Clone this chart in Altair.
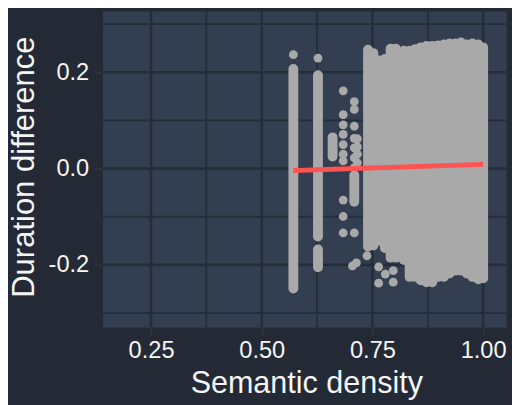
import altair as alt
import pandas as pd

# ---- data ----
# dense vertical bands of points: x, top of band, bottom of band
band_x = [0.5714, 0.627, 0.627, 0.660, 0.709,
          0.740, 0.752, 0.765, 0.778, 0.791, 0.803, 0.821,
          0.834, 0.846, 0.859, 0.872, 0.885, 0.898, 0.911,
          0.924, 0.937, 0.950, 0.963, 0.976, 0.989, 1.000]
band_top = [0.207, 0.194, -0.168, 0.065, -0.014,
            0.247, 0.240, 0.225, 0.228, 0.249, 0.249, 0.245,
            0.245, 0.248, 0.252, 0.255, 0.255, 0.256, 0.258,
            0.260, 0.260, 0.262, 0.258, 0.260, 0.258, 0.252]
band_bot = [-0.249, -0.141, -0.205, 0.025, -0.069,
            -0.162, -0.160, -0.150, -0.165, -0.185, -0.185, -0.190,
            -0.225, -0.225, -0.232, -0.236, -0.236, -0.225, -0.225,
            -0.218, -0.212, -0.212, -0.218, -0.225, -0.230, -0.228]

# isolated points
dot_x = [0.5714, 0.627,
         0.684, 0.684, 0.684, 0.684, 0.684, 0.684, 0.684, 0.684, 0.684, 0.684,
         0.709, 0.709, 0.709, 0.709, 0.709, 0.709, 0.709, 0.709, 0.7137, 0.705,
         0.716, 0.716, 0.716, 0.716,
         0.7377, 0.764, 0.764, 0.779, 0.797, 0.797]
dot_y = [0.2366, 0.2297,
         0.1616, 0.112, 0.091, 0.071, 0.050, 0.030, 0.016, -0.0654, -0.0995, -0.1336,
         0.139, 0.123, 0.088, 0.063, 0.043, 0.0225, 0.002, -0.1336, -0.196, -0.202,
         0.062, 0.045, 0.030, 0.012,
         -0.181, -0.204, -0.238, -0.219, -0.212, -0.236]

# fitted regression line
fit_x = [0.5714, 1.0]
fit_y = [-0.004, 0.0088]

# axis ticks / grid
x_major = [0.25, 0.5, 0.75, 1.0]
x_minor = [0.375, 0.625, 0.875]
y_major = [-0.2, 0.0, 0.2]
y_minor = [-0.3, -0.1, 0.1, 0.3]

BG = "#232a35"
PANEL = "#333e50"
GRID = "#252d39"
PT = "#a9a9a9"
RED = "#ff5252"
TXT = "#f5f5f5"
FONT = "Liberation Sans"

xs = alt.Scale(domain=[0.1404, 1.0518], nice=False, zero=False)
ys = alt.Scale(domain=[-0.3292, 0.3272], nice=False, zero=False)

x_axis = alt.Axis(values=x_major, format=".2f", title="Semantic density",
                  grid=False, domain=False, tickColor="#333333", tickWidth=2,
                  tickSize=8, labelFontSize=24, labelPadding=4, labelColor=TXT,
                  labelFont=FONT, titleFont=FONT, titleFontSize=31,
                  titleFontWeight="normal", titleColor=TXT,
                  titleX=207, titleY=66, titleBaseline="alphabetic",
                  titleAlign="center")
y_axis = alt.Axis(values=y_major, title="Duration difference",
                  labelExpr="datum.value < 0 ? '-' + format(-datum.value, '.1f') : format(datum.value, '.1f')",
                  grid=False, domain=False, tickColor="#333333", tickWidth=2,
                  tickSize=8, labelFontSize=24, labelPadding=6, labelColor=TXT,
                  labelFont=FONT, titleFont=FONT, titleFontSize=31.5,
                  titleFontWeight="normal", titleColor=TXT,
                  titleX=-70, titleY=158, titleBaseline="alphabetic",
                  titleAlign="center", titleAngle=270)

gx_minor = alt.Chart(pd.DataFrame({"v": x_minor})).mark_rule(
    color=GRID, strokeWidth=1.8).encode(x=alt.X("v:Q", scale=xs, axis=x_axis))
gx_major = alt.Chart(pd.DataFrame({"v": x_major})).mark_rule(
    color=GRID, strokeWidth=2.6).encode(x=alt.X("v:Q", scale=xs, axis=x_axis))
gy_minor = alt.Chart(pd.DataFrame({"v": y_minor})).mark_rule(
    color=GRID, strokeWidth=1.8).encode(y=alt.Y("v:Q", scale=ys, axis=y_axis))
gy_major = alt.Chart(pd.DataFrame({"v": y_major})).mark_rule(
    color=GRID, strokeWidth=2.6).encode(y=alt.Y("v:Q", scale=ys, axis=y_axis))

bands = alt.Chart(pd.DataFrame({"x": band_x, "top": band_top, "bot": band_bot})).mark_rule(
    color=PT, strokeWidth=10, strokeCap="round").encode(
    x=alt.X("x:Q", scale=xs, axis=x_axis),
    y=alt.Y("top:Q", scale=ys, axis=y_axis),
    y2="bot:Q")

dots = alt.Chart(pd.DataFrame({"x": dot_x, "y": dot_y})).mark_circle(
    color=PT, opacity=1, size=80).encode(
    x=alt.X("x:Q", scale=xs, axis=x_axis),
    y=alt.Y("y:Q", scale=ys, axis=y_axis))

fit = alt.Chart(pd.DataFrame({"x": fit_x, "y": fit_y})).mark_line(
    color=RED, strokeWidth=5).encode(
    x=alt.X("x:Q", scale=xs, axis=x_axis),
    y=alt.Y("y:Q", scale=ys, axis=y_axis))

chart = alt.layer(gx_minor, gx_major, gy_minor, gy_major, bands, dots, fit).properties(
    width=410, height=321,
    background=BG,
    padding={"left": 96, "top": 0, "right": 6, "bottom": 76},
    autosize=alt.AutoSizeParams(type="none"),
).configure_view(fill=PANEL, stroke="transparent")

chart.save("out.html", embed_options={"renderer": "svg", "actions": False})
